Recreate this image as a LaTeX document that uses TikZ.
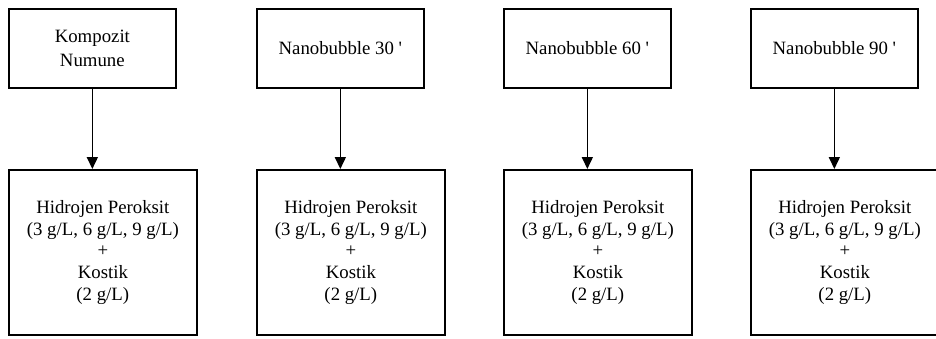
\documentclass[tikz,border=0pt]{standalone}
\usepackage{fontspec}
\newfontfamily\boxfont{Liberation Serif}
\usetikzlibrary{arrows.meta}
\begin{document}
\begin{tikzpicture}[x=1pt,y=-1pt,
  box/.style={draw, line width=1.7pt, inner sep=0pt, align=center,
    font=\boxfont\fontsize{18.8}{21.7}\selectfont},
  topbox/.style={box, anchor=north west, minimum width=167pt, minimum height=79pt},
  botbox/.style={box, anchor=north west, minimum width=188pt, minimum height=165pt},
  flow/.style={line width=1.6pt, -{Triangle[length=12pt,width=11pt]}}]
\useasboundingbox (0,0) rectangle (936,338);

% sample boxes
\node[topbox, font=\boxfont\fontsize{18.8}{24.5}\selectfont] (t1) at (8,8) {Kompozit\\Numune};
\node[topbox] (t2) at (256,8) {Nanobubble 30 '};
\node[topbox] (t3) at (503,8) {Nanobubble 60 '};
\node[topbox] (t4) at (750,8) {Nanobubble 90 '};

% treatment boxes
\foreach \i/\x in {1/8, 2/256, 3/503, 4/750}{
  \node[botbox] (b\i) at (\x,169)
    {Hidrojen Peroksit\\(3 g/L, 6 g/L, 9 g/L)\\+\\Kostik\\(2 g/L)};
}

% connectors
\foreach \i in {1,...,4}{
  \draw[flow] (t\i.south) -- (t\i.south |- b\i.north);
}
\end{tikzpicture}
\end{document}
